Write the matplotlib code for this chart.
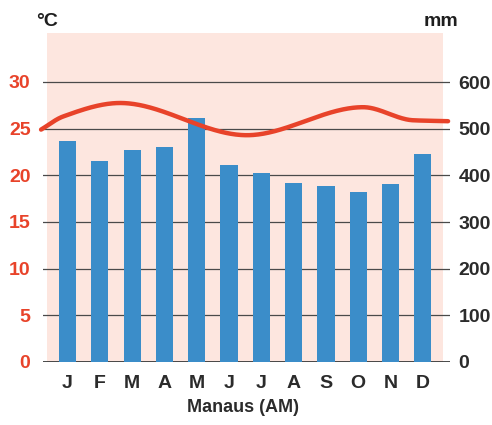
import numpy as np
import matplotlib
matplotlib.use("Agg")
import matplotlib.pyplot as plt
import matplotlib.patches as patches

months = ["J", "F", "M", "A", "M", "J", "J", "A", "S", "O", "N", "D"]
rain_mm = [474, 431, 454, 460, 523, 422, 405, 384, 377, 364, 381, 446]
# temperature curve: knots in month units (edges run past the first and last month)
temp_x = [-0.82, -0.14, 1.63, 5.55, 9.15, 10.7, 11.78]
temp_c = [24.9, 26.3, 27.75, 24.3, 27.3, 25.9, 25.8]

BLUE = "#3b8dc9"
RED = "#e8432a"
PINK = "#fde6df"
DARK = "#2b2b2b"
FONT = "Liberation Sans"


def pchip(xs, ys, n=400):
    # monotone cubic Hermite (Fritsch-Carlson) through the knots
    xs = np.asarray(xs, float)
    ys = np.asarray(ys, float)
    h = np.diff(xs)
    d = np.diff(ys) / h
    m = np.zeros_like(ys)
    for i in range(1, len(xs) - 1):
        if d[i - 1] * d[i] > 0:
            w1 = 2 * h[i] + h[i - 1]
            w2 = h[i] + 2 * h[i - 1]
            m[i] = (w1 + w2) / (w1 / d[i - 1] + w2 / d[i])
    m[0] = d[0]
    m[-1] = d[-1]
    xx = np.linspace(xs[0], xs[-1], n)
    k = np.clip(np.searchsorted(xs, xx) - 1, 0, len(h) - 1)
    t = (xx - xs[k]) / h[k]
    h00 = 2 * t ** 3 - 3 * t ** 2 + 1
    h10 = t ** 3 - 2 * t ** 2 + t
    h01 = -2 * t ** 3 + 3 * t ** 2
    h11 = t ** 3 - t ** 2
    yy = h00 * ys[k] + h10 * h[k] * m[k] + h01 * ys[k + 1] + h11 * h[k] * m[k + 1]
    return xx, yy


fig = plt.figure(figsize=(4.92, 4.25), dpi=100)
W, H = 492, 425
ax = fig.add_axes([43 / W, (H - 362) / H, (450 - 43) / W, (362 - 33) / H])
ax2 = ax.twinx()

x = np.arange(len(months))
xmin, xmax = -0.76, 11.84
ytop = 35.25
ax.set_xlim(xmin, xmax)
ax.set_ylim(0, ytop)
ax2.set_ylim(0, ytop * 20)

ax.add_patch(patches.Rectangle((-0.635, 0), 11.63 + 0.635, ytop,
                               facecolor=PINK, edgecolor="none", zorder=0))

for v in range(5, 31, 5):
    ax.axhline(v, color="#4a4a4a", lw=0.9, zorder=1)
ax.axhline(0, color="#3a3a3a", lw=1.3, zorder=1)

ax2.bar(x, rain_mm, width=0.53, color=BLUE, zorder=2)

sx, sy = pchip(temp_x, temp_c)
ax2.plot(sx, sy * 20, color=RED, lw=3.2, solid_capstyle="round",
         clip_on=False, zorder=3)

for a in (ax, ax2):
    for s in a.spines.values():
        s.set_visible(False)
    a.tick_params(length=0)

ax.set_yticks(range(0, 31, 5))
ax.set_yticklabels([str(v) for v in range(0, 31, 5)], color=RED,
                   fontsize=14, fontfamily=FONT, fontweight="bold")
ax.tick_params(axis="y", pad=9)
ax2.set_yticks(range(0, 601, 100))
ax2.set_yticklabels([str(v) for v in range(0, 601, 100)], color=DARK,
                    fontsize=14, fontfamily=FONT, fontweight="bold")
ax2.tick_params(axis="y", pad=6)

ax.set_xticks(x)
ax.set_xticklabels(months, color=DARK, fontsize=14, fontfamily=FONT,
                   fontweight="bold")
ax.tick_params(axis="x", pad=9)

fig.text(243 / W, 1 - 407 / H, "Manaus (AM)", ha="center", va="center",
         color=DARK, fontsize=13, fontfamily=FONT, fontweight="bold")
fig.text(47 / W, 1 - 21 / H, "°C", ha="center", va="center",
         color="#1e1e1e", fontsize=14, fontfamily=FONT, fontweight="bold")
fig.text(441 / W, 1 - 22 / H, "mm", ha="center", va="center",
         color="#1e1e1e", fontsize=14, fontfamily=FONT, fontweight="bold")

fig.savefig("out.png", dpi=100)
